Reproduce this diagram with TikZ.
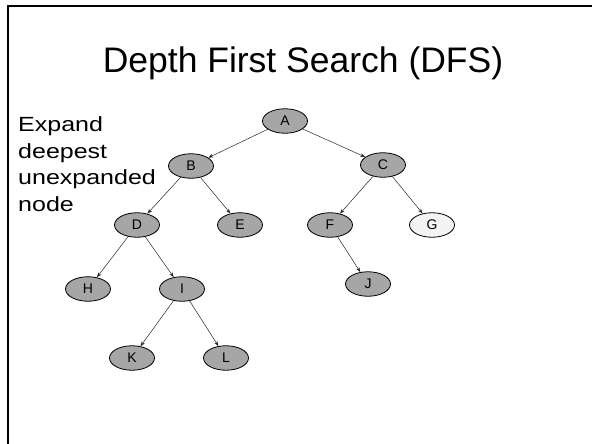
\documentclass[tikz,border=0pt]{standalone}
\usepackage{fontspec}
\setmainfont{Liberation Sans}
\usetikzlibrary{shapes.geometric,arrows.meta}
\definecolor{nodegray}{RGB}{166,166,166}
\definecolor{nodelight}{RGB}{244,244,244}
\begin{document}
\begin{tikzpicture}[x=1pt,y=-1pt,
  tn/.style={ellipse,draw=black,line width=0.8pt,fill=nodegray,minimum width=45pt,minimum height=24.5pt,inner sep=0pt,font=\fontsize{14}{14}\selectfont},
  tnlight/.style={tn,fill=nodelight},
  edge/.style={draw=black!85,line width=0.5pt,-{Stealth[length=5pt,width=3.6pt]}},
  frame/.style={line width=2.5pt,draw=black}]
\useasboundingbox (0,0) rectangle (592,444);
\coordinate (fa) at (8,444);
\coordinate (fb) at (8,6);
\coordinate (fc) at (592,6);
\draw[frame] (fa) -- (fb) -- (fc);
\node[anchor=base,font=\fontsize{35.5}{35.5}\selectfont] (title) at (303,73) {Depth First Search (DFS)};
\node[anchor=base west,inner sep=0pt,font=\fontsize{20.5}{20.5}\selectfont] (t1) at (18,131.5) {\scalebox{1.22}[1]{Expand}};
\node[anchor=base west,inner sep=0pt,font=\fontsize{20.5}{20.5}\selectfont] (t2) at (18,158) {\scalebox{1.22}[1]{deepest}};
\node[anchor=base west,inner sep=0pt,font=\fontsize{20.5}{20.5}\selectfont] (t3) at (18,184.5) {\scalebox{1.22}[1]{unexpanded}};
\node[anchor=base west,inner sep=0pt,font=\fontsize{20.5}{20.5}\selectfont] (t4) at (18,211) {\scalebox{1.22}[1]{node}};
\node[tn] (A) at (285,121) {A};
\node[tn] (B) at (191,166) {B};
\node[tn] (C) at (383,165) {C};
\node[tn] (D) at (137,225) {D};
\node[tn] (E) at (240,225) {E};
\node[tn] (F) at (330,225) {F};
\node[tnlight] (G) at (432,225) {G};
\node[tn] (H) at (88,289) {H};
\node[tn] (I) at (182,289) {I};
\node[tn] (J) at (368,284) {J};
\node[tn] (K) at (132,358) {K};
\node[tn] (L) at (226,358) {L};
\path[edge] (A) -- (B);
\path[edge] (A) -- (C);
\path[edge] (B) -- (D);
\path[edge] (B) -- (E);
\path[edge] (C) -- (F);
\path[edge] (C) -- (G);
\path[edge] (D) -- (H);
\path[edge] (D) -- (I);
\path[edge] (F) -- (J);
\path[edge] (I) -- (K);
\path[edge] (I) -- (L);
\end{tikzpicture}
\end{document}
